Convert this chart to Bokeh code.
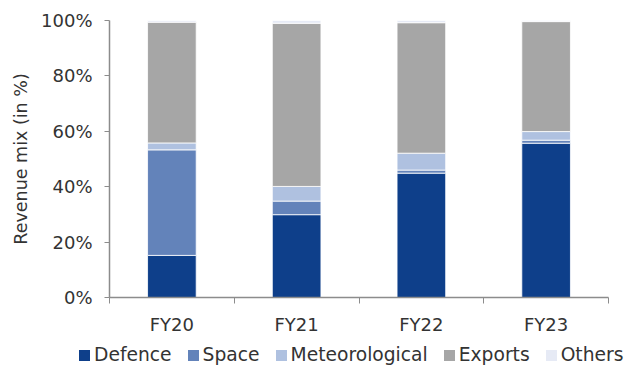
from bokeh.plotting import figure
from bokeh.layouts import column
from bokeh.models import ColumnDataSource, FixedTicker, NumeralTickFormatter, Range1d, Div
from bokeh.embed import file_html
from bokeh.resources import INLINE

years = ["FY20", "FY21", "FY22", "FY23"]
defence = [15.2, 29.9, 44.9, 55.7]
space = [38.1, 4.9, 1.1, 1.1]
meteorological = [2.5, 5.3, 6.1, 3.1]
exports = [43.6, 58.9, 47.1, 39.7]
others = [0.6, 1.0, 0.8, 0.4]

segments = ["Defence", "Space", "Meteorological", "Exports", "Others"]
colors = ["#0E3F8A", "#6383BA", "#AFC1E0", "#A6A6A6", "#E6EAF5"]

xpos = [i + 0.5 for i in range(len(years))]
data = {"x": xpos}
for name, vals in zip(segments, [defence, space, meteorological, exports, others]):
    data[name] = [v / 100.0 for v in vals]
source = ColumnDataSource(data)

FONT = "DejaVu Sans"
TXT = "#333333"

p = figure(frame_width=499, frame_height=277, output_backend="svg", toolbar_location=None,
           x_range=Range1d(0, len(years)), y_range=Range1d(0, 1.0),
           min_border_left=109, min_border_right=19, min_border_top=20,
           min_border_bottom=41)
p.outline_line_color = None
p.xgrid.grid_line_color = None
p.ygrid.grid_line_color = None

renderers = p.vbar_stack(segments, x="x", width=0.39, source=source, color=colors,
                         line_color="white", line_width=0.8)

# x axis
p.xaxis.ticker = FixedTicker(ticks=xpos, minor_ticks=list(range(len(years) + 1)))
p.xaxis.major_label_overrides = {x: y for x, y in zip(xpos, years)}
p.xaxis.major_tick_out = 0
p.xaxis.major_tick_in = 0
p.xaxis.minor_tick_out = 6
p.xaxis.minor_tick_in = 0
p.xaxis.minor_tick_line_color = "#8c8c8c"
p.xaxis.axis_line_color = "#8c8c8c"
p.xaxis.axis_line_width = 1.5
p.xaxis.major_label_text_font = FONT
p.xaxis.major_label_text_font_size = "18px"
p.xaxis.major_label_text_color = TXT
p.xaxis.major_label_standoff = 10

# y axis
p.yaxis.ticker = FixedTicker(ticks=[0, 0.2, 0.4, 0.6, 0.8, 1.0])
p.yaxis.formatter = NumeralTickFormatter(format="0%")
p.yaxis.major_tick_out = 5
p.yaxis.major_tick_in = 0
p.yaxis.minor_tick_line_color = None
p.yaxis.major_tick_line_color = "#8c8c8c"
p.yaxis.axis_line_color = "#8c8c8c"
p.yaxis.axis_line_width = 1.5
p.yaxis.major_label_text_font = FONT
p.yaxis.major_label_text_font_size = "18px"
p.yaxis.major_label_text_color = TXT
p.yaxis.major_label_standoff = 12
p.yaxis.axis_label = "Revenue mix (in %)"
p.yaxis.axis_label_text_font = FONT
p.yaxis.axis_label_text_font_size = "17.5px"
p.yaxis.axis_label_text_font_style = "normal"
p.yaxis.axis_label_text_color = TXT
p.yaxis.axis_label_standoff = 7

# legend strip below the chart
items_html = []
for i, (name, col) in enumerate(zip(segments, colors)):
    gap = "" if i == 0 else '<span style="display:inline-block;width:16px"></span>'
    items_html.append(
        gap
        + f'<span style="display:inline-block;width:11px;height:11px;background:{col};'
        + 'margin-right:4px;vertical-align:baseline"></span>'
        + f'<span>{name}</span>'
    )
legend_html = (
    f'<div style="font-family:\'{FONT}\';font-size:18.7px;color:{TXT};white-space:nowrap;'
    'line-height:20px;padding-top:7px;padding-left:79px;margin:0">'
    + "".join(items_html)
    + "</div>"
)
lg = Div(text=legend_html, width=627, height=30, margin=0)

layout = column(p, lg, spacing=0)
open("out.html", "w").write(file_html(layout, INLINE))
